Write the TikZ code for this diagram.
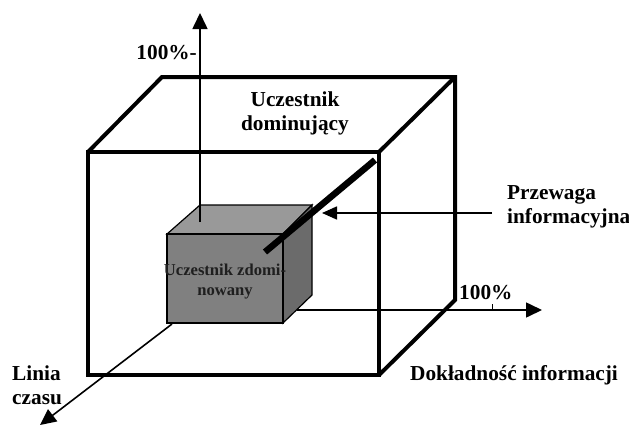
\documentclass[tikz,border=0pt]{standalone}
\usepackage{fontspec}
\setmainfont{Liberation Serif}
\usetikzlibrary{arrows.meta}
\begin{document}
\begin{tikzpicture}[x=1pt,y=-1pt,
  bigedge/.style={line width=4pt, line join=miter},
  axisline/.style={line width=1.6pt, -{Triangle[length=16pt,width=15pt]}},
  lbl/.style={font=\fontsize{21.3}{24}\selectfont\bfseries, inner sep=0pt, align=left},
  smalllbl/.style={font=\fontsize{16.6}{20}\selectfont\bfseries, text=black!88, inner sep=0pt, align=center},
  cubeedge/.style={draw=black, line width=1.2pt, line join=miter}]
\useasboundingbox (0,0) rectangle (629,426);
% big cube
\draw[bigedge] (88,152) rectangle (379,375);
\draw[bigedge] (88,152) -- (162,77) -- (455,77) -- (455,300) -- (379,375);
\draw[bigedge] (379,152) -- (455,77);
% small cube
\filldraw[cubeedge, fill=black!40] (167,234) -- (200,205) -- (312,205) -- (283,234) -- cycle;
\filldraw[cubeedge, fill=black!58] (283,234) -- (312,205) -- (312,295) -- (283,323) -- cycle;
\filldraw[cubeedge, fill=black!50] (167,234) rectangle (283,323);
% labels
\node[lbl, anchor=east] (lv) at (197,53) {100\%-};
\node[lbl, align=center] (dom) at (295,113) {Uczestnik\\dominujący};
\node[lbl, anchor=west] (prz) at (507,207) {Przewaga\\informacyjna};
\node[lbl, anchor=west] (lh) at (459,293) {100\%};
\node[lbl, anchor=west] (dok) at (410,375) {Dokładność informacji};
\node[lbl, anchor=west] (lin) at (12,385) {Linia\\czasu};
\node[smalllbl] (zdom) at (225,282) {Uczestnik zdomi-\\nowany};
% axes
\coordinate (vbase) at (200,222);
\coordinate (vtip) at (200,13);
\coordinate (hbase) at (297,310);
\coordinate (htip) at (542,310);
\coordinate (tbase) at (172,324);
\coordinate (ttip) at (40,425);
\coordinate (tickb) at (492,310);
\coordinate (ticka) at (492,304);
\draw[axisline] (vbase) -- (vtip);
\draw[axisline] (hbase) -- (htip);
\draw[axisline] (tbase) -- (ttip);
\draw[line width=1pt] (tickb) -- (ticka);
% information advantage
\coordinate (pstart) at (492,213);
\coordinate (pend) at (322,213);
\draw[line width=1.6pt, -{Triangle[length=15pt,width=13pt]}] (pstart) -- (pend);
\coordinate (dhi) at (375,160);
\coordinate (dlo) at (265,252);
\draw[line width=6.5pt] (dhi) -- (dlo);
\end{tikzpicture}
\end{document}
